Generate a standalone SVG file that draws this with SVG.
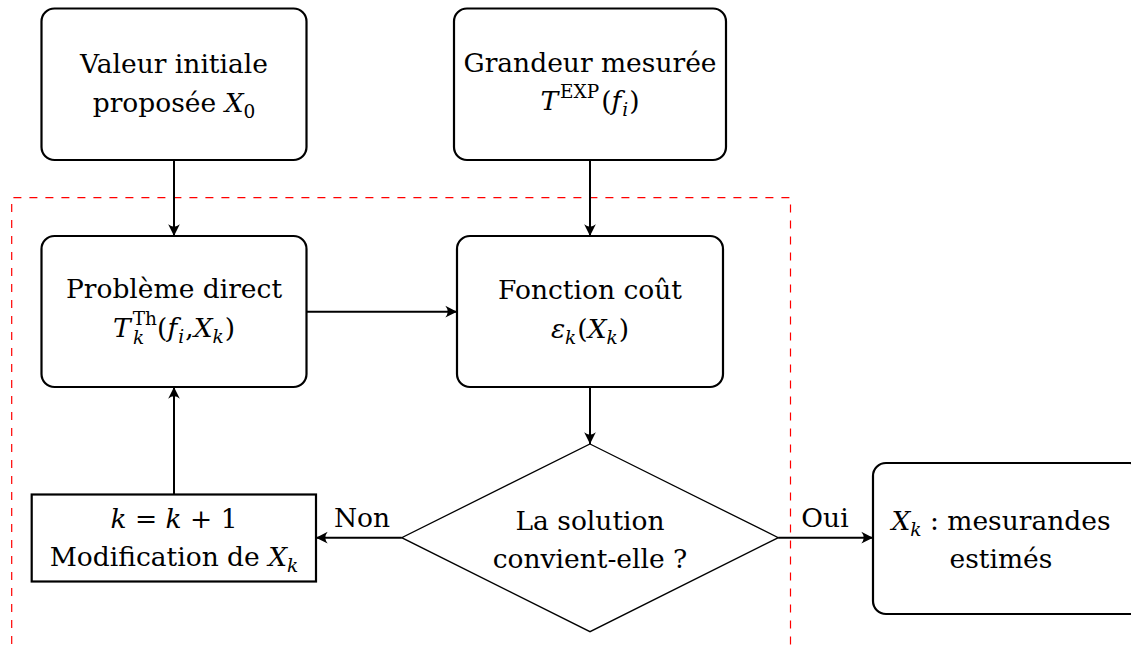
<svg xmlns="http://www.w3.org/2000/svg" width="1131" height="650" viewBox="0 0 1131 650">
<style>
.box{fill:#fff;stroke:#000;stroke-width:2.2}
.dia{fill:#fff;stroke:#000;stroke-width:1.3}
.t{font-family:"DejaVu Serif",serif;font-size:26.5px;fill:#000;text-anchor:middle}
.i{font-style:italic}
.s{font-size:18.5px}
.c{stroke:#000;stroke-width:2;fill:none;marker-end:url(#ah)}
.frame{fill:none;stroke:#f00;stroke-width:1.2;stroke-dasharray:8 8}
</style>
<defs>
<marker id="ah" markerUnits="userSpaceOnUse" markerWidth="14" markerHeight="14" viewBox="-11 -6 12 12" refX="0" refY="0" orient="auto">
<path d="M0,0 L-10,-5 Q-6,0 -10,5 Z" fill="#000"/>
</marker>
</defs>
<rect width="1131" height="650" fill="#fff"/>
<path class="frame" d="M11.7,660 V197.7 H790.5 V660"/>
<g id="connectors">
<line class="c" x1="174" y1="160" x2="174" y2="236"/>
<line class="c" x1="590" y1="160" x2="590" y2="236"/>
<line class="c" x1="306.5" y1="311.7" x2="457" y2="311.7"/>
<line class="c" x1="590" y1="387" x2="590" y2="444"/>
<line class="c" x1="401.7" y1="537.7" x2="316" y2="537.7"/>
<line class="c" x1="778.3" y1="537.7" x2="873" y2="537.7"/>
<line class="c" x1="174" y1="494.5" x2="174" y2="387"/>
<text class="t" x="362" y="527">Non</text>
<text class="t" x="825" y="527">Oui</text>
</g>
<g id="init">
<rect class="box" x="41.5" y="8.5" width="265" height="151.5" rx="13"/>
<text class="t" x="174" y="73">Valeur initiale</text>
<text class="t" x="174" y="112">proposée <tspan class="i">X</tspan><tspan class="s" dy="6">0</tspan></text>
</g>
<g id="mesure">
<rect class="box" x="454" y="8.5" width="272" height="151.5" rx="13"/>
<text class="t" x="590" y="72">Grandeur mesurée</text>
<text class="t" x="590" y="110"><tspan class="i">T</tspan><tspan class="s" dx="2" dy="-12">EXP</tspan><tspan dx="2" dy="12">(</tspan><tspan class="i">f</tspan><tspan class="s i" dx="1" dy="6">i</tspan><tspan dx="1" dy="-6">)</tspan></text>
</g>
<g id="direct">
<rect class="box" x="41.5" y="236" width="265" height="151" rx="13"/>
<text class="t" x="174" y="298">Problème direct</text>
<text class="t" x="174" y="337"><tspan class="i">T</tspan><tspan class="s" dx="2" dy="-12">Th</tspan><tspan class="s i" dx="-24" dy="19">k</tspan><tspan dx="13" dy="-7">(</tspan><tspan class="i">f</tspan><tspan class="s i" dx="1" dy="6">i</tspan><tspan dx="1" dy="-6">,</tspan><tspan class="i">X</tspan><tspan class="s i" dy="6">k</tspan><tspan dx="1" dy="-6">)</tspan></text>
</g>
<g id="cout">
<rect class="box" x="457" y="236" width="266" height="151" rx="13"/>
<text class="t" x="590" y="299">Fonction coût</text>
<text class="t" x="590" y="338"><tspan class="i">ε</tspan><tspan class="s i" dy="6">k</tspan><tspan dx="1" dy="-6">(</tspan><tspan class="i">X</tspan><tspan class="s i" dy="6">k</tspan><tspan dx="1" dy="-6">)</tspan></text>
</g>
<g id="test">
<polygon class="dia" points="590,444 778.3,537.7 590,631.7 401.7,537.7"/>
<text class="t" x="590" y="530">La solution</text>
<text class="t" x="590" y="568">convient-elle ?</text>
</g>
<g id="modif">
<rect class="box" x="31.7" y="494.5" width="284.3" height="87"/>
<text class="t" x="174" y="528"><tspan class="i">k</tspan> = <tspan class="i">k</tspan> + 1</text>
<text class="t" x="174" y="566">Modification de <tspan class="i">X</tspan><tspan class="s i" dy="6">k</tspan></text>
</g>
<g id="resultat">
<rect class="box" x="873" y="463" width="270" height="151" rx="13"/>
<text class="t" x="1001" y="530"><tspan class="i">X</tspan><tspan class="s i" dy="6">k</tspan><tspan dy="-6"> : mesurandes</tspan></text>
<text class="t" x="1001" y="568">estimés</text>
</g>
</svg>
